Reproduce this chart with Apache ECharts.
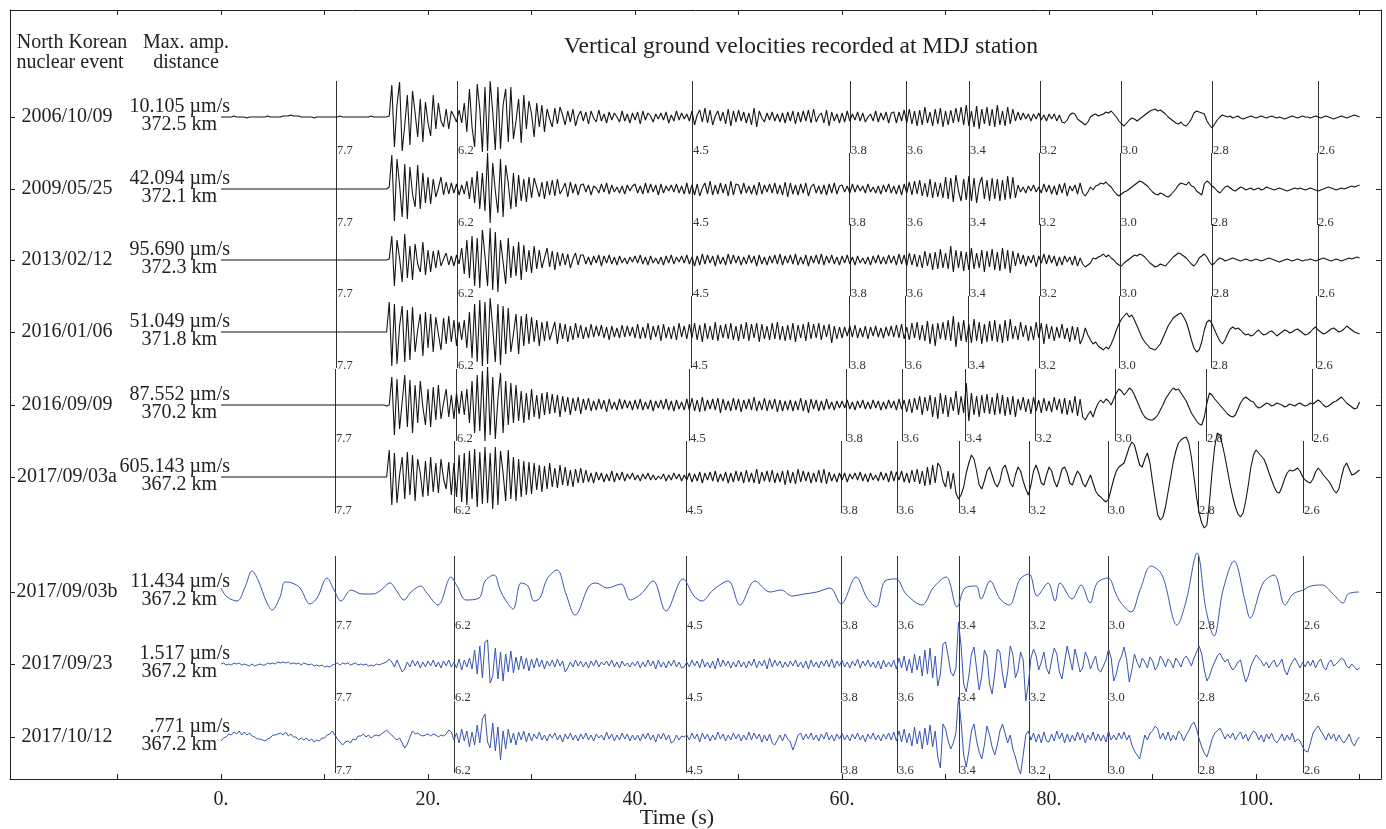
<!DOCTYPE html>
<html><head><meta charset="utf-8">
<script src="https://cdn.jsdelivr.net/npm/echarts@6/dist/echarts.min.js"></script>
<style>html,body{margin:0;padding:0;background:#fff}#c{width:1386px;height:829px}</style>
</head><body><div id="c"></div>
<script>
// ---------------- DATA ----------------
const events = ['2006/10/09','2009/05/25','2013/02/12','2016/01/06','2016/09/09','2017/09/03a','2017/09/03b','2017/09/23','2017/10/12'];
const maxAmp = ['10.105','42.094','95.690','51.049','87.552','605.143','11.434','1.517','.771'];
const distKm = [372.5,372.1,372.3,371.8,370.2,367.2,367.2,367.2,367.2];
const velocities = [7.7,6.2,4.5,3.8,3.6,3.4,3.2,3.0,2.8,2.6];
const reductionVel = 10;
const xTickLabels = [0,20,40,60,80,100];
const dt = 0.25; // sample spacing (s) of the amplitude arrays
// normalised amplitudes (up = positive)
const amp20061009 = [
0,0,0,0,0,1,0,0,0,0,-1,0,0,0,0,0,0,0,1,0,
0,0,0,0,1,1,1,2,1,1,1,0,0,0,0,0,-1,0,0,0,
0,0,0,0,0,0,1,0,0,0,0,0,0,0,0,0,0,0,1,0,
0,0,0,0,0,1,32,-30,12,35,-34,-8,22,-28,26,4,-20,18,-25,15,
-6,-19,22,-12,14,-4,-10,8,-12,6,1,-5,7,-6,14,-15,28,-10,-30,33,
8,-35,30,-34,36,5,-33,30,-32,12,28,-25,30,-22,-4,18,-26,22,-12,16,
3,-20,14,-10,12,-15,8,-2,-10,9,-7,10,2,-8,6,-5,8,-9,1,6,
-4,5,-7,6,-1,-5,7,-4,3,-6,5,-3,4,0,-5,6,-4,3,-6,4,
-3,5,-7,6,-3,4,1,-5,3,-2,4,-3,5,-6,2,-4,6,-3,4,-2,
3,-4,6,-8,2,7,-5,9,-6,7,-8,1,6,-4,5,-7,8,-9,6,-5,
7,-4,5,-6,4,-8,9,-10,6,-1,-5,4,-3,5,-4,3,-5,4,-6,5,
-4,6,-7,5,-5,6,-4,7,-6,8,-5,1,4,-6,7,-9,5,-4,3,-6,
4,-5,6,-4,3,-3,5,-4,4,-5,0,3,-4,6,-5,4,-3,5,-6,4,
5,-6,5,-4,7,-6,8,-7,6,-9,7,-8,10,-6,5,-9,8,-7,9,-10,
6,-8,7,-6,9,-5,10,-8,12,-9,6,-10,11,-12,8,-7,10,-9,8,-10,
12,-8,6,-9,10,-7,8,-4,5,-3,4,-2,3,-4,3,-2,4,-3,2,-4,
3,-2,3,-4,2,-5,-6,-3,2,4,3,-2,-4,-6,-8,-5,0,2,3,1,
2,3,5,4,6,3,0,-4,-7,-9,-6,-3,-1,-2,-4,-2,0,2,4,6,
7,8,6,7,5,3,0,-2,-4,-6,-7,-5,-8,-9,-6,-2,4,6,5,4,
3,-4,-8,-11,-7,-3,0,2,1,0,1,-1,0,1,-1,-2,-1,0,1,0,
-1,0,1,0,-1,0,1,0,-1,0,-1,-2,-1,0,1,0,-1,0,1,0,
0,-1,0,1,0,-1,0,1,0,-1,-2,-1,0,1,0,-1,0,1,2,1,
0];
const amp20090525 = [
0,0,0,0,0,0,0,0,0,0,0,0,0,0,0,0,0,0,0,0,
0,0,0,0,0,0,0,0,0,0,0,0,0,0,0,0,0,0,0,0,
0,0,0,0,0,0,0,0,0,0,0,0,0,0,0,0,0,0,0,0,
0,0,0,0,0,2,34,-32,30,4,-28,25,-30,22,-5,-18,24,-20,16,-14,
12,-15,10,-8,1,12,-6,7,-5,6,-4,5,-6,4,-5,8,-10,12,-14,18,
-20,16,-22,36,-34,26,-2,-24,30,-28,24,6,-20,16,-18,14,-12,10,-13,12,
-9,11,2,-8,7,-10,8,-6,9,-7,10,-5,0,6,-8,7,-4,5,-6,4,
5,-3,4,-6,3,1,-4,5,-3,6,-5,4,-3,2,-4,3,-5,4,-2,3,
5,-4,3,-5,6,-4,5,-3,4,-6,5,-4,3,-2,4,-3,5,-4,3,-5,
6,-5,4,-6,5,-7,1,6,-5,8,-6,4,-5,6,-4,5,-7,8,-6,5,
4,-5,6,-4,3,-5,4,-6,7,-5,4,-3,5,-4,6,-5,4,-6,7,-8,
6,-5,4,-6,5,-4,6,-7,2,5,-4,3,-5,4,-6,5,-4,6,-5,3,
4,-3,3,-4,5,-3,4,-2,3,-4,5,-3,2,-4,3,-5,4,-3,5,-4,
3,-5,4,-6,5,-4,7,-6,8,-5,9,-7,6,-8,10,-9,7,-8,6,-9,
12,-10,11,-13,14,-2,-12,10,-11,13,-12,11,-14,4,12,-10,9,-12,11,-10,
10,-12,9,-11,13,-10,12,-9,4,-3,2,-4,3,-2,4,-3,2,-4,5,-3,
4,-5,3,-6,5,-4,6,-7,3,-2,4,-5,6,-4,-7,-3,2,-1,3,4,
6,5,7,4,2,-2,-5,-7,-5,-3,-2,0,2,4,6,8,7,5,3,0,
-3,-5,-6,-4,-5,-7,-8,-6,-3,0,4,6,5,4,7,3,2,-2,-4,-6,
5,8,6,3,1,-2,-4,-1,2,3,1,-1,-2,0,2,1,-1,0,1,-1,
0,1,-1,0,2,1,0,-1,0,1,0,-1,-2,-1,0,1,0,1,0,-1,
0,1,0,-1,-2,-1,0,1,2,1,0,-1,0,1,0,1,2,3,2,3,
4];
const amp20130212 = [
0,0,0,0,0,0,0,0,0,0,0,0,0,0,0,0,0,0,0,0,
0,0,0,0,0,0,0,0,0,0,0,0,0,0,0,0,0,0,0,0,
0,0,0,0,0,0,0,0,0,0,0,0,0,0,0,0,0,0,0,0,
0,0,0,0,0,1,24,-26,20,2,-22,26,-18,14,-20,16,-4,-12,18,-15,
10,-12,9,-8,10,-6,1,7,-5,4,-6,5,-4,12,-14,20,-18,24,-26,22,
-28,30,4,-26,32,-30,28,-32,20,-2,-24,22,-18,14,-16,18,-20,15,-12,10,
-13,14,-9,10,-8,2,12,-7,9,-10,8,-6,7,-5,6,-8,1,7,-5,5,
5,-4,3,-5,4,-3,5,-6,4,-3,5,-4,3,-5,4,-3,2,-4,3,-2,
4,-3,5,-4,3,-5,4,-3,2,-4,3,-5,4,-3,5,-4,3,-2,4,-3,
5,-4,3,-6,4,-5,6,-4,5,-3,4,-6,5,-4,3,-5,6,-4,5,-3,
4,-5,3,-4,5,-3,4,-6,5,-4,3,-5,4,-3,5,-4,6,-5,4,-3,
5,-4,6,-5,3,-4,5,-6,4,-3,5,-4,6,-5,4,-3,5,-4,3,-5,
4,-3,5,-4,3,-5,4,-3,2,-4,3,-5,4,-3,5,-4,3,-4,5,-3,
4,-5,6,-4,5,-6,7,-5,6,-7,5,-8,9,-6,7,-10,8,-9,11,-8,
7,-9,14,-12,10,-8,9,-11,8,-10,12,-9,7,-8,10,-12,9,-7,11,-10,
8,-11,12,-9,10,-13,9,-6,7,-4,5,-6,4,-3,5,-7,4,-3,6,-4,
5,-3,4,-6,3,-5,4,-2,3,-5,4,-6,2,-4,-7,-5,-3,2,1,3,
4,6,3,5,2,0,-3,-5,-6,-3,-1,1,3,5,4,6,5,3,0,-3,
-5,-7,-6,-4,-5,-6,-3,0,3,5,7,6,4,2,-1,-4,-6,-3,2,4,
6,3,-2,-5,-3,0,2,1,-1,0,1,2,1,0,-1,0,1,0,-1,0,
1,0,-1,0,1,2,1,0,-1,-2,-1,0,1,0,-1,0,1,0,-1,0,
0,1,0,-1,0,1,2,1,0,-1,0,1,0,-1,0,1,2,1,2,3,
2];
const amp20160106 = [
0,0,0,0,0,0,0,0,0,0,0,0,0,0,0,0,0,0,0,0,
0,0,0,0,0,0,0,0,0,0,0,0,0,0,0,0,0,0,0,0,
0,0,0,0,0,0,0,0,0,0,0,0,0,0,0,0,0,0,0,0,
0,0,0,0,0,30,-34,28,-32,6,26,-30,22,-28,25,-20,2,18,-24,20,
-16,18,-20,15,-2,-18,14,-12,16,-10,12,-14,10,-8,12,-16,20,-26,28,-30,
32,-34,30,-32,34,4,-30,28,-33,26,-22,24,-20,-2,18,-22,16,-14,18,-12,
15,-10,12,-14,10,-9,11,-8,1,10,-12,9,-7,8,-10,6,-8,9,-6,7,
-7,5,-6,8,-5,6,-4,7,-6,5,-8,6,-5,4,-6,7,-5,6,-4,5,
-6,8,-7,5,-6,9,-8,6,-5,7,-9,8,-6,5,-7,6,-8,9,-5,6,
-7,8,-6,9,-8,7,-10,9,-7,6,-8,10,-9,7,-6,8,-7,9,-8,6,
-9,8,-7,10,-9,8,-6,9,-10,8,-7,6,-8,9,-7,10,-8,6,-9,7,
-8,9,-10,7,-6,8,-9,10,-7,8,-6,9,-8,7,-5,8,-11,6,-7,5,
-6,5,-4,6,-5,7,-6,4,-5,6,-7,5,-4,6,-5,4,-6,5,-4,6,
-5,7,-6,8,-7,5,-8,9,-6,10,-8,7,-9,11,-12,8,-14,9,-7,10,
-8,12,-9,16,-15,10,-9,12,-10,8,-11,13,-9,10,-12,8,-10,11,-9,12,
-10,8,-11,12,-9,13,-7,6,-8,10,-5,7,-9,6,-8,10,-6,9,-12,8,
-7,6,-9,5,-6,8,-7,4,-10,6,-8,5,-12,-6,4,-3,-8,-12,-10,-14,
-16,-18,-15,-17,-12,-6,2,8,13,16,19,15,17,12,6,0,-6,-10,-13,-16,
-17,-18,-15,-12,-6,0,6,10,14,16,18,19,15,10,2,-8,-16,-20,-18,-10,
2,10,12,8,2,-4,-9,-12,-8,-2,3,5,3,4,2,-1,-3,-2,-4,-3,
0,2,-1,-3,-2,0,1,-1,-4,-2,0,2,1,-1,0,2,3,1,-1,-3,
-2,0,3,5,2,0,-2,-1,1,3,4,2,0,1,3,6,4,2,0,-1,
-2];
const amp20160909 = [
0,0,0,0,0,0,0,0,0,0,0,0,0,0,0,0,0,0,0,0,
0,0,0,0,0,0,0,0,0,0,0,0,0,0,0,0,0,0,0,0,
0,0,0,0,0,0,0,0,0,0,0,0,0,0,0,0,0,0,0,0,
0,0,0,0,-1,0,28,-30,26,-24,3,30,-22,25,-28,20,-18,24,-2,-20,
16,-22,18,-15,20,-14,2,16,-12,10,-14,12,-9,14,-10,16,-18,24,-28,30,
-26,34,-36,38,-30,28,-34,6,32,-28,24,-20,22,-18,20,-16,14,-18,12,-15,
16,-12,10,-14,12,-10,13,-9,11,-8,10,-12,9,-7,8,-10,7,-6,8,-9,
6,-5,7,-6,4,-5,6,-4,5,-7,6,-4,3,-5,6,-4,5,-3,4,-5,
5,-4,6,-5,3,-4,5,-6,4,-3,5,-4,6,-5,4,-6,5,-4,3,-5,
6,-5,7,-6,5,-7,8,-6,5,-4,6,-5,7,-8,6,-5,4,-6,7,-5,
6,-7,5,-4,6,-5,8,-6,4,-5,7,-6,5,-4,6,-7,5,-6,4,-5,
5,-6,4,-5,7,-6,5,-8,6,-4,5,-6,4,-5,6,-4,3,-5,4,-3,
4,-3,5,-4,3,-5,4,-3,5,-4,3,-4,5,-3,4,-5,3,-4,5,-3,
4,-5,6,-4,5,-7,6,-8,7,-5,9,-10,8,-6,10,-12,8,-14,12,-9,
10,-12,8,-6,14,-10,9,-8,22,-16,12,-10,9,-12,10,-8,11,-9,8,-10,
12,-9,10,-11,8,-10,9,-12,6,-5,8,-7,6,-9,8,-6,5,-8,7,-6,
4,-7,8,-5,6,-9,7,-10,5,-8,9,-11,6,-12,-15,-10,-6,-12,-4,2,
5,2,6,4,0,6,12,16,14,10,13,17,15,10,4,-2,-8,-12,-14,-15,
-15,-13,-10,-5,0,6,10,14,17,15,16,12,8,4,-2,-8,-12,-16,-19,-20,
-12,2,12,10,6,3,0,-3,-6,-9,-11,-12,-10,-4,2,6,8,6,4,3,
-1,-3,-2,0,2,1,-1,0,2,1,0,-2,-1,1,0,-1,1,2,0,-1,
0,2,1,3,5,3,0,-2,-1,1,3,4,6,8,5,2,0,-2,-4,-3,
3];
const amp20170903a = [
0,0,0,0,0,0,0,0,0,0,0,0,0,0,0,0,0,0,0,0,
0,0,0,0,0,0,0,0,0,0,0,0,0,0,0,0,0,0,0,0,
0,0,0,0,0,0,0,0,0,0,0,0,0,0,0,0,0,0,0,0,
0,0,0,0,0,27,-28,24,-26,2,20,-22,25,-18,22,-24,18,4,-20,16,
-19,20,-15,14,-16,18,-2,-12,15,-18,14,-20,22,-25,24,-28,26,-22,28,-30,
25,-27,30,-26,24,-32,30,-28,26,4,-24,27,-22,20,-24,18,-20,16,-18,15,
-17,14,-13,12,-15,11,-12,14,-10,9,-11,12,-8,10,-9,7,-10,8,-6,9,
-6,7,-5,4,-6,5,-3,4,-5,3,-4,6,-5,4,-3,5,-4,3,-2,4,
-3,2,-4,3,-2,4,-3,2,-3,1,-2,3,-4,2,-3,4,-2,3,-4,2,
-3,4,-5,3,-4,5,-6,4,-3,5,-4,6,-5,3,-4,5,-6,4,-5,6,
-4,5,-6,7,-5,4,-6,8,-7,5,-4,6,-5,7,-6,4,-5,6,-8,7,
-6,5,-7,8,-5,6,-4,5,-6,4,-5,7,-6,8,-7,5,-4,3,-5,4,
-3,4,-5,3,-2,4,-3,5,-4,3,-5,4,-3,2,-4,5,-3,4,-5,6,
-4,5,-3,6,-5,4,-6,7,-5,8,-7,6,-9,10,-8,12,-6,14,10,-4,
-10,6,-12,4,-16,-22,-18,-10,4,14,22,18,6,-8,-12,-4,6,10,2,-6,
-10,-4,8,12,4,-6,-10,2,10,6,-4,-12,-18,-8,6,12,4,-6,-8,2,
10,6,-4,-10,-2,8,10,4,-6,-8,0,6,2,-6,-10,-4,2,-6,-14,-18,
-20,-23,-25,-22,-12,-2,6,10,12,14,22,30,35,32,22,12,10,18,24,14,
-5,-22,-38,-43,-40,-30,-15,0,15,26,34,37,39,40,34,20,0,-20,-36,-46,
-51,-48,-25,5,30,44,42,32,20,6,-8,-20,-30,-37,-40,-36,-24,-8,10,22,
27,24,21,18,12,4,-3,-10,-15,-16,-10,-2,4,7,6,7,9,6,0,-3,
-5,-6,-2,5,9,6,2,-1,-4,-8,-13,-16,-12,0,10,14,8,2,3,5,
7];
// 2017/09/03b is a slow signal: read as (time, amplitude) points
const time20170903b = [0,0.58,1.55,2.32,3.0,3.57,4.44,4.93,5.7,6.18,6.86,7.63,8.6,9.28,10.24,10.92,11.59,12.56,13.62,14.69,15.46,16.33,16.91,17.68,18.36,19.32,19.81,20.97,22.22,22.8,23.67,24.93,25.51,26.38,26.96,27.54,28.21,28.99,29.66,30.24,30.82,31.5,32.46,33.33,34.2,35.56,36.23,37.29,38.65,39.52,40.58,41.74,42.99,44.64,45.7,46.47,47.54,48.99,50.14,51.59,53.04,54.11,55.17,56.33,57.58,58.84,59.9,61.35,62.42,63.29,64.15,65.22,66.18,67.73,68.79,70.05,71.11,71.88,72.95,73.43,74.3,75.27,76.14,77.2,78.07,78.84,79.9,80.58,81.06,82.22,83.09,83.96,84.64,85.7,86.47,86.96,87.92,88.79,89.86,90.92,92.37,93.24,94.3,95.17,95.94,96.81,97.87,98.94,99.42,100.68,101.74,102.8,103.57,104.54,105.31,106.38,107.44,108.41,108.89,109.95];
const amp20170903b = [4,-5,-9,5,21,12,-11,-18,-5,10,9,4,-12,-6,14,2,-9,2,-2,-2,2,9,2,-8,0,6,0,-13,15,6,-8,-6,11,17,2,-9,-17,9,6,-9,-6,13,22,-2,-23,6,9,4,8,-8,-2,11,-19,13,-4,-9,2,11,-13,11,0,2,-4,-2,0,4,-12,15,-6,-15,11,13,-2,-13,4,15,-15,4,6,-7,11,-7,-13,13,18,-4,9,-9,9,-7,7,-11,9,14,-2,-11,-20,2,26,17,-33,-9,39,-18,-44,2,31,-9,-26,9,17,-13,-2,2,6,7,-2,-11,-2,0];
const amp20170923 = [
0,1,-1,0,-1,1,0,1,-1,0,-1,-2,0,-2,-1,0,-1,-1,1,0,
1,0,2,1,2,1,2,0,1,0,1,-1,1,0,-1,0,-2,-1,-2,-1,
-3,-2,-3,-1,0,1,-1,1,0,1,-1,0,1,-1,0,-1,0,-2,-1,-2,
0,-1,0,1,2,5,2,-3,4,-2,-8,-5,2,-3,4,-2,3,-4,2,-3,
3,-2,4,-3,2,-4,3,-2,4,-3,2,-4,5,-6,4,-3,6,-5,14,-10,
18,-14,22,24,-19,-12,16,-15,12,-17,10,-8,13,-9,7,-6,8,-5,6,-7,
5,-4,6,-3,4,-5,3,-2,4,-3,5,-2,3,-8,-4,2,-3,4,-2,3,
-3,2,-4,3,-2,4,-3,2,-1,3,-2,4,-3,2,-4,3,-2,1,-3,2,
-2,3,-4,2,-3,4,-2,3,-5,4,-3,2,-4,3,-2,4,-3,2,-4,-3,
2,-3,4,-2,3,-4,5,-3,2,-4,3,-5,6,-3,4,-2,3,-4,2,-3,
4,-3,2,-4,3,-2,5,-4,3,-2,4,-5,6,-3,4,-2,3,-4,2,-3,
3,-2,4,-3,2,-4,3,-5,4,-3,2,-4,3,-2,4,-3,5,-4,3,-2,
4,-3,2,-4,3,-2,5,-4,3,-2,4,-3,2,-4,3,-5,4,-3,2,-3,
4,-5,6,-4,8,-7,5,-9,10,-6,8,-12,14,-10,16,-14,8,-22,-10,20,
22,8,-8,-12,-4,42,18,-20,-28,-12,10,17,-5,-26,-12,14,8,-20,-30,-10,
15,12,-10,-24,-8,18,10,-14,-6,12,4,-37,-20,6,15,8,-6,2,12,-4,
-10,4,16,10,-8,-15,2,18,6,-6,15,4,-8,-4,12,6,-5,2,8,-6,
-8,-2,4,15,6,-17,-10,2,8,17,4,-18,-6,10,2,-4,6,2,-4,7,
3,-6,-2,8,4,-3,5,2,-4,6,2,-3,5,8,4,-2,6,12,18,10,
-6,-17,-12,-4,2,8,11,6,2,5,-2,-6,-3,2,4,-8,-18,-12,-2,4,
9,6,3,-2,2,-4,1,4,-3,0,5,-6,-11,-3,2,6,1,-4,2,-3,
3,-2,4,-4,2,5,-3,-6,1,4,-2,0,3,6,4,-2,-4,0,-3,-6,
-4];
const amp20171012 = [
-4,-1,0,3,2,5,3,6,2,5,2,4,1,0,-2,-2,-3,-4,-2,-1,
2,2,3,4,2,5,1,3,0,0,-3,-1,-3,-1,-4,-2,-5,-3,-4,-1,
-1,2,3,6,2,-2,-5,-8,-5,-4,-6,-2,-3,1,1,3,0,2,-1,1,
2,1,3,5,7,4,2,-1,-3,-1,-6,-11,-7,0,6,3,4,2,1,2,
3,1,3,2,0,2,1,3,7,5,-3,4,-6,8,-4,6,-10,5,-8,12,
-6,18,23,-5,-11,14,-14,10,-23,6,-12,8,-6,4,-8,5,-3,6,-5,4,
-4,3,-2,5,-3,2,-4,3,-1,4,-3,2,-5,3,-2,4,-3,2,-4,3,
-2,4,-3,2,-4,3,-1,2,-3,5,-2,3,-4,2,-3,4,-2,3,-4,2,
-3,2,-4,3,-2,4,-3,2,-5,3,-2,4,-3,2,-6,-4,2,-3,1,0,
2,-3,4,-2,3,-5,4,-2,3,-4,2,-3,5,-2,3,-4,2,-3,4,-2,
3,-4,2,-3,5,-3,4,-2,3,-5,2,-4,3,-6,-8,-3,2,-4,3,-2,
-5,-13,-6,2,4,-3,3,-2,4,-3,2,-4,3,-2,5,-3,2,-4,3,-2,
4,-3,2,-4,3,-2,4,-3,2,-5,3,-2,4,-3,2,-4,3,-2,4,-3,
5,-4,6,-5,8,-6,4,-9,10,-7,6,-12,9,-8,12,-10,6,-20,-31,13,
8,-4,-12,-6,4,40,15,-18,-30,-14,6,13,-4,-15,-22,-8,11,2,-10,-18,
-8,6,13,4,-6,2,-12,-20,-30,-37,-18,2,6,-3,4,-5,3,-6,5,-4,
-5,3,-4,6,-2,4,-6,3,-5,2,-4,5,-3,4,-6,2,-3,5,-4,3,
-4,2,-5,6,-3,2,-3,4,-2,5,-3,2,-8,-14,-18,-22,-10,2,-3,4,
6,11,8,-2,4,-3,5,-4,2,-3,6,3,-4,2,6,12,15,8,-2,-10,
-16,-20,-12,-2,4,6,9,4,-2,3,-1,4,-3,2,5,-2,3,-4,2,6,
4,-3,2,-5,3,-2,4,-3,-6,-2,3,-4,2,-3,4,-5,-2,-4,-10,-14,
-15,-6,4,8,11,6,2,-3,4,-2,3,-4,2,-3,-6,-2,3,-5,-9,-3,
0];

// ---------------- LAYOUT / STYLE ----------------
const FONT = '"Liberation Serif","Times New Roman",serif';
const slotY = [107,179,250,322,395,467,582,654,727]; // baseline of each trace (px below plot top)
const markerHalf = 36;
const black = '#151515', blue = '#3754b2';
const traceColors = [black,black,black,black,black,black,blue,blue,blue];
const traceWidths = [1.1,1.1,1.1,1.1,1.1,1.1,1,1,1];

const sampled = [amp20061009, amp20090525, amp20130212, amp20160106, amp20160909, amp20170903a, null, amp20170923, amp20171012];

const chart = echarts.init(document.getElementById('c'));

const series = [];
// phase-velocity markers
const markerData = [];
distKm.forEach((d, k) => velocities.forEach((v, j) => markerData.push([d / v - d / reductionVel, slotY[k], j])));
series.push({
  type: 'custom', silent: true, z: 1, clip: false,
  data: markerData,
  renderItem: function (params, api) {
    const t = api.value(0), b = api.value(1), j = api.value(2);
    const p1 = api.coord([t, b - markerHalf]);
    const p2 = api.coord([t, b + markerHalf]);
    const x = Math.round(p1[0]) + 0.5;
    return { type: 'group', children: [
      { type: 'line', shape: { x1: x, y1: p1[1], x2: x, y2: p2[1] }, style: { stroke: '#333', lineWidth: 1 } },
      { type: 'text', x: x + 0.5, y: p2[1] - 2, style: { text: velocities[j].toFixed(1), font: '12.5px ' + FONT, fill: '#333', align: 'left', verticalAlign: 'middle' } }
    ] };
  }
});
// waveforms
events.forEach((ev, k) => {
  let data;
  if (sampled[k]) data = sampled[k].map((a, i) => [i * dt, slotY[k] - a]);
  else data = time20170903b.map((t, i) => [t, slotY[k] - amp20170903b[i]]);
  series.push({
    type: 'line', name: ev, data, showSymbol: false, silent: true, z: 2,
    smooth: sampled[k] ? false : 0.35,
    lineStyle: { color: traceColors[k], width: traceWidths[k] }
  });
});

const xTicks = [];
for (let v = -10; v <= 110; v += 10) xTicks.push(v);
const xMin = -20.39, xMax = 112.07;
const axisCommon = {
  type: 'value', min: xMin, max: xMax, splitLine: { show: false },
  axisLine: { show: true, onZero: false, lineStyle: { color: '#222', width: 1 } },
  axisTick: { show: true, inside: true, length: 5, customValues: xTicks, lineStyle: { color: '#222' } }
};
const yCommon = {
  type: 'value', min: 0, max: 769, inverse: true, splitLine: { show: false },
  axisLine: { show: true, onZero: false, lineStyle: { color: '#222', width: 1 } },
  axisTick: { show: true, inside: true, length: 5, customValues: slotY, lineStyle: { color: '#222' } },
  axisLabel: { show: false }
};

chart.setOption({
  animation: false,
  backgroundColor: '#fff',
  grid: { left: 10, right: 5, top: 10, bottom: 50 },
  xAxis: [
    Object.assign({}, axisCommon, { position: 'bottom',
      axisLabel: { show: true, customValues: xTickLabels, formatter: v => v + '.', fontFamily: FONT, fontSize: 20, color: '#222', margin: 11 } }),
    Object.assign({}, axisCommon, { position: 'top', axisLabel: { show: false } })
  ],
  yAxis: [
    Object.assign({}, yCommon, { position: 'left' }),
    Object.assign({}, yCommon, { position: 'right' })
  ],
  series
});

// texts
const g = [];
function txt(x, y, s, align, size) {
  g.push({ type: 'text', x, y, silent: true, style: { text: s, font: (size || 20) + 'px ' + FONT, fill: '#222', align: align || 'center', verticalAlign: 'middle' } });
}
txt(72, 43, 'North Korean'); txt(70, 63, 'nuclear event');
txt(186, 43, 'Max. amp.'); txt(186, 63, 'distance');
txt(801, 47, 'Vertical ground velocities recorded at MDJ station', 'center', 23.5);
txt(677, 818, 'Time (s)', 'center', 22);
events.forEach((ev, k) => {
  const y = chart.convertToPixel({ gridIndex: 0 }, [0, slotY[k]])[1];
  txt(67, y, ev);
  txt(230, y - 10, maxAmp[k] + ' \u00b5m/s', 'right');
  txt(217, y + 8, distKm[k].toFixed(1) + ' km', 'right');
});
chart.setOption({ graphic: g });
</script></body></html>
